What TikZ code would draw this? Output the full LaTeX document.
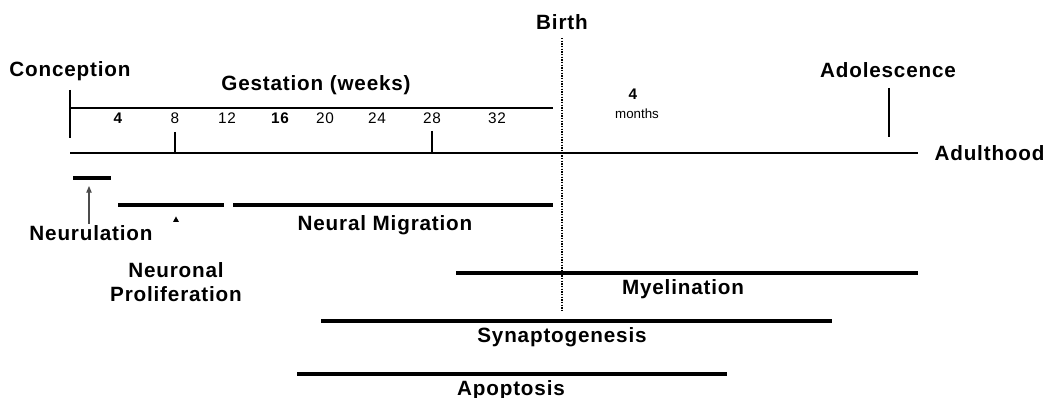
\documentclass[tikz,border=0pt]{standalone}
\usepackage{fontspec}
\setmainfont{Liberation Sans}
\newfontfamily\lblfont[LetterSpace=4]{Liberation Sans}
\usetikzlibrary{arrows.meta}

\tikzset{
  label/.style={font=\lblfont\bfseries\fontsize{15.5}{17}\selectfont, inner sep=1pt},
  wk/.style={font=\lblfont\fontsize{11.5}{12}\selectfont, inner sep=0pt},
  wkb/.style={font=\lblfont\bfseries\fontsize{11.5}{12}\selectfont, inner sep=0pt},
  thinline/.style={line width=0.8pt},
  bar/.style={line width=3.2pt},
}

\begin{document}
\begin{tikzpicture}[x=0.75pt, y=-0.75pt]

  \useasboundingbox (0,0) rectangle (1046,398);

  % Time axis
  \coordinate (start) at (70,153);
  \coordinate (stop)  at (918,153);
  \draw[line width=1.6pt] (start) -- (stop);
  \node[label, anchor=west] (adult) at (933,153) {Adulthood};

  % Gestation scale
  \draw[thinline] (70,90) -- (70,138);
  \draw[thinline] (70,108) -- (553,108);
  \draw[thinline] (175,132) -- (175,153);
  \draw[thinline] (432,131) -- (432,153);
  \draw[thinline] (889,88) -- (889,137);

  \node[wkb] at (118,118) {4};
  \node[wk]  at (175,118) {8};
  \node[wk]  at (227,118) {12};
  \node[wkb] at (280,118) {16};
  \node[wk]  at (325,118) {20};
  \node[wk]  at (377,118) {24};
  \node[wk]  at (432,118) {28};
  \node[wk]  at (497,118) {32};

  \node[wkb] at (633,94) {4};
  \node[font=\fontsize{10}{12}\selectfont, inner sep=0pt] at (637,114) {months};

  % Milestones
  \node[label] (birth) at (562,22) {Birth};
  \node[label] (concep) at (70,71) {Conception};
  \node[label] (gest) at (316,85) {Gestation (weeks)};
  \node[label] (adol) at (888,70) {Adolescence};

  % Birth line
  \coordinate (btop) at (562,38);
  \coordinate (bend) at (562,311);
  \draw[line width=1.2pt, dash pattern=on 1pt off 1pt] (btop) -- (bend);

  % Neurulation
  \draw[bar] (73,178) -- (111,178);
  \coordinate (neurtip) at (89,186);
  \node[label] (neurul) at (91,233) {Neurulation};
  \draw[thinline, gray!60!black, -{Triangle[length=5pt, width=4pt]}] (neurul.north -| neurtip) -- (neurtip);

  % Neuronal proliferation
  \draw[bar] (118,205) -- (224,205);
  \fill (173,222) -- (179,222) -- (176,216.5) -- cycle;
  \node[label, align=center] (prolif) at (176,282) {Neuronal\\[1pt]Proliferation};

  % Neural migration
  \draw[bar] (233,205) -- (553,205);
  \node[label] (migr) at (385,225) {Neural Migration};

  % Myelination
  \draw[bar] (456,273) -- (918,273);
  \node[label] (myel) at (683,289) {Myelination};

  % Synaptogenesis
  \draw[bar] (321,321) -- (832,321);
  \node[label] (synap) at (562,337) {Synaptogenesis};

  % Apoptosis
  \draw[bar] (297,374) -- (727,374);
  \node[label] (apop) at (511,390) {Apoptosis};

\end{tikzpicture}
\end{document}
